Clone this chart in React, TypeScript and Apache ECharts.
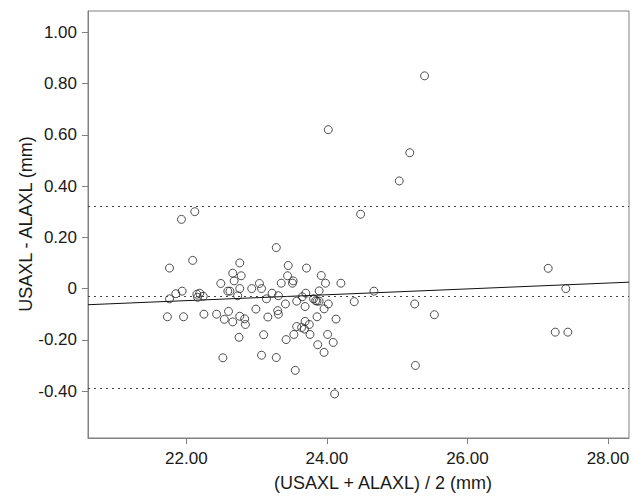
import React, { useEffect, useRef } from "react";
import * as echarts from "echarts";

// Mean of the two measurements (mm)
const MEAN_X: number[] = [
  25.39, 24.02, 25.18, 25.03, 24.48, 21.93, 22.12,
  21.76, 22.09, 22.76, 22.66, 22.78, 22.68, 22.49, 22.76, 22.59, 22.62, 22.93, 23.04, 23.07,
  21.94, 21.85, 21.76, 22.15, 22.19, 22.16, 22.24, 22.73, 23.14, 21.73, 21.96, 22.25, 22.43,
  22.6, 22.54, 22.66, 22.76, 22.83, 22.84, 22.99, 23.16, 22.75, 23.1, 22.52, 23.07,
  23.28, 23.45, 23.71, 23.44, 23.52, 23.51, 23.35, 23.92, 23.98, 24.2, 23.89, 24.67,
  23.22, 23.31, 23.65, 23.7, 23.57, 23.81, 23.84, 23.86, 23.89, 24.02, 23.96, 24.39,
  25.25, 25.53, 23.41, 23.69, 23.3, 23.31, 23.86, 24.13, 23.69, 23.57, 23.64, 23.68,
  23.75, 23.53, 23.42, 23.76, 24.01, 23.87, 24.09, 23.96, 23.28, 23.55, 25.26, 24.11,
  27.15, 27.4, 27.25, 27.43,
];

// Difference between the two measurements (mm)
const DIFF_Y: number[] = [
  0.83, 0.62, 0.53, 0.42, 0.29, 0.27, 0.3,
  0.08, 0.11, 0.1, 0.06, 0.05, 0.03, 0.02, 0.0, -0.01, -0.01, 0.0, 0.02, 0.0,
  -0.01, -0.02, -0.04, -0.022, -0.018, -0.034, -0.03, -0.028, -0.04, -0.11, -0.11, -0.1, -0.1,
  -0.089, -0.12, -0.13, -0.108, -0.118, -0.14, -0.08, -0.111, -0.19, -0.18, -0.27, -0.26,
  0.16, 0.09, 0.08, 0.05, 0.03, 0.021, 0.021, 0.051, 0.021, 0.021, -0.009, -0.01,
  -0.018, -0.028, -0.032, -0.018, -0.049, -0.04, -0.047, -0.049, -0.049, -0.06, -0.079, -0.051,
  -0.06, -0.102, -0.06, -0.07, -0.086, -0.1, -0.11, -0.119, -0.128, -0.148, -0.152, -0.158,
  -0.14, -0.179, -0.199, -0.179, -0.179, -0.219, -0.21, -0.249, -0.269, -0.319, -0.3, -0.411,
  0.079, 0.0, -0.17, -0.17,
];

// Bland-Altman reference lines
const MEAN_DIFF = -0.034;
const UPPER_LOA = 0.323;
const LOWER_LOA = -0.392;

// Regression of difference on mean
const REG_INTERCEPT = -0.2985;
const REG_SLOPE = 0.01143;

const X_TICKS: number[] = [22, 24, 26, 28];
const Y_TICKS: number[] = [-0.4, -0.2, 0, 0.2, 0.4, 0.6, 0.8, 1.0];

const X_MIN = 20.6;
const X_MAX = 28.3;
const Y_MIN = -0.583;
const Y_MAX = 1.083;

const X_TITLE = "(USAXL + ALAXL) / 2 (mm)";
const Y_TITLE = "USAXL - ALAXL (mm)";

const FONT = "'Liberation Sans', Arial, Helvetica, sans-serif";

export default function App() {
  const ref = useRef<HTMLDivElement>(null);

  useEffect(() => {
    if (!ref.current) return;
    const chart = echarts.init(ref.current, undefined, { renderer: "svg" });

    const points = MEAN_X.map((x, i) => [x, DIFF_Y[i]]);
    const regLine = [
      [X_MIN, REG_INTERCEPT + REG_SLOPE * X_MIN],
      [X_MAX, REG_INTERCEPT + REG_SLOPE * X_MAX],
    ];

    const dotted = {
      color: "#444",
      width: 1,
      type: [2, 4] as any,
    };

    chart.setOption({
      animation: false,
      backgroundColor: "#fff",
      grid: {
        left: 88,
        right: 4,
        top: 11,
        bottom: 62,
        show: true,
        borderColor: "#808080",
        borderWidth: 1,
        backgroundColor: "transparent",
      },
      xAxis: {
        type: "value",
        min: X_MIN,
        max: X_MAX,
        splitLine: { show: false },
        axisLine: { show: true, onZero: false, lineStyle: { color: "#808080", width: 1 } },
        axisTick: {
          show: true,
          length: 6,
          customValues: X_TICKS,
          lineStyle: { color: "#808080" },
        },
        axisLabel: {
          customValues: X_TICKS,
          formatter: (v: number) => v.toFixed(2),
          color: "#1a1a1a",
          fontSize: 17,
          fontFamily: FONT,
          margin: 12,
        },
      },
      yAxis: {
        type: "value",
        min: Y_MIN,
        max: Y_MAX,
        splitLine: { show: false },
        axisLine: { show: true, onZero: false, lineStyle: { color: "#808080", width: 1 } },
        axisTick: {
          show: true,
          length: 6,
          customValues: Y_TICKS,
          lineStyle: { color: "#808080" },
        },
        axisLabel: {
          customValues: Y_TICKS,
          formatter: (v: number) => (Math.abs(v) < 1e-9 ? "0" : v.toFixed(2)),
          color: "#1a1a1a",
          fontSize: 17,
          fontFamily: FONT,
          margin: 11,
        },
      },
      graphic: [
        {
          type: "text",
          x: 383,
          y: 483,
          style: {
            text: X_TITLE,
            fill: "#1a1a1a",
            font: `18px ${FONT}`,
            align: "center",
            verticalAlign: "middle",
          },
        },
        {
          type: "text",
          x: 26,
          y: 224,
          rotation: Math.PI / 2,
          style: {
            text: Y_TITLE,
            fill: "#1a1a1a",
            font: `18px ${FONT}`,
            align: "center",
            verticalAlign: "middle",
          },
        },
      ],
      series: [
        {
          type: "scatter",
          data: points,
          symbol: "circle",
          symbolSize: 8,
          itemStyle: { color: "rgba(255,255,255,0)", borderColor: "#222", borderWidth: 1 },
          silent: true,
          z: 3,
          markLine: {
            silent: true,
            symbol: "none",
            label: { show: false },
            lineStyle: dotted,
            data: [{ yAxis: UPPER_LOA }, { yAxis: MEAN_DIFF }, { yAxis: LOWER_LOA }],
          },
        },
        {
          type: "line",
          data: regLine,
          showSymbol: false,
          symbol: "none",
          lineStyle: { color: "#111", width: 1 },
          silent: true,
          z: 2,
        },
      ],
    });

    return () => chart.dispose();
  }, []);

  return (
    <div
      ref={ref}
      style={{ position: "fixed", left: 0, top: 0, width: 633, height: 500 }}
    />
  );
}
